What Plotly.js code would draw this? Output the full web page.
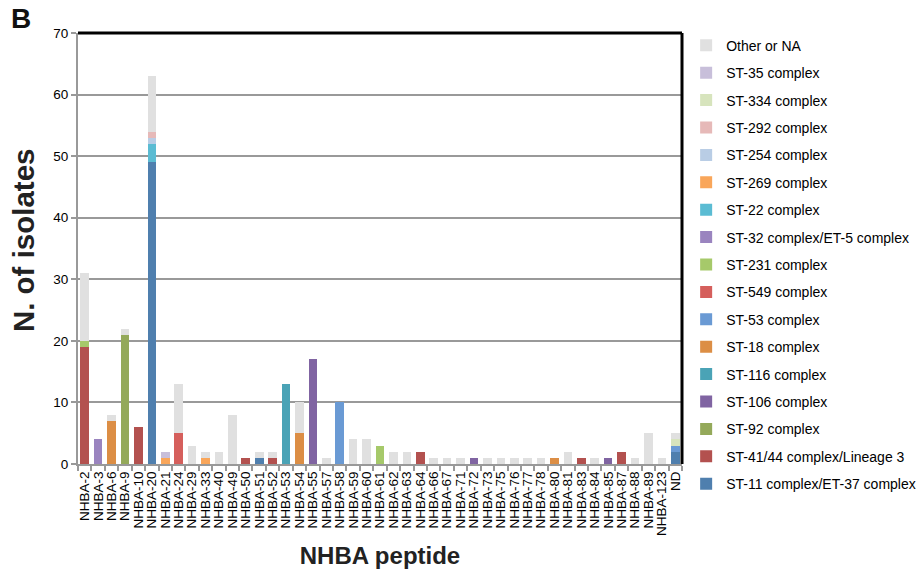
<!DOCTYPE html>
<html>
<head>
<meta charset="utf-8">
<script src="https://cdn.plot.ly/plotly-3.0.1.min.js"></script>
<style>body{margin:0;background:#fff;} #chart{width:921px;height:577px;}</style>
</head>
<body>
<div id="chart"></div>
<script>
const categories = ["NHBA-2","NHBA-3","NHBA-6","NHBA-9","NHBA-10","NHBA-20","NHBA-21","NHBA-24","NHBA-29","NHBA-33","NHBA-40","NHBA-49","NHBA-50","NHBA-51","NHBA-52","NHBA-53","NHBA-54","NHBA-55","NHBA-57","NHBA-58","NHBA-59","NHBA-60","NHBA-61","NHBA-62","NHBA-63","NHBA-64","NHBA-66","NHBA-67","NHBA-71","NHBA-72","NHBA-73","NHBA-75","NHBA-76","NHBA-77","NHBA-78","NHBA-80","NHBA-81","NHBA-83","NHBA-84","NHBA-85","NHBA-87","NHBA-88","NHBA-89","NHBA-123","ND"];

// values per series, aligned with categories
const st11    = [0,0,0,0,0,49,0,0,0,0,0,0,0,1,0,0,0,0,0,0,0,0,0,0,0,0,0,0,0,0,0,0,0,0,0,0,0,0,0,0,0,0,0,0,2];
const st41_44 = [19,0,0,0,6,0,0,0,0,0,0,0,1,0,1,0,0,0,0,0,0,0,0,0,0,2,0,0,0,0,0,0,0,0,0,0,0,1,0,0,2,0,0,0,0];
const st92    = [0,0,0,21,0,0,0,0,0,0,0,0,0,0,0,0,0,0,0,0,0,0,0,0,0,0,0,0,0,0,0,0,0,0,0,0,0,0,0,0,0,0,0,0,0];
const st106   = [0,0,0,0,0,0,0,0,0,0,0,0,0,0,0,0,0,17,0,0,0,0,0,0,0,0,0,0,0,1,0,0,0,0,0,0,0,0,0,1,0,0,0,0,0];
const st116   = [0,0,0,0,0,0,0,0,0,0,0,0,0,0,0,13,0,0,0,0,0,0,0,0,0,0,0,0,0,0,0,0,0,0,0,0,0,0,0,0,0,0,0,0,0];
const st18    = [0,0,7,0,0,0,0,0,0,0,0,0,0,0,0,0,5,0,0,0,0,0,0,0,0,0,0,0,0,0,0,0,0,0,0,1,0,0,0,0,0,0,0,0,0];
const st53    = [0,0,0,0,0,0,0,0,0,0,0,0,0,0,0,0,0,0,0,10,0,0,0,0,0,0,0,0,0,0,0,0,0,0,0,0,0,0,0,0,0,0,0,0,1];
const st549   = [0,0,0,0,0,0,0,5,0,0,0,0,0,0,0,0,0,0,0,0,0,0,0,0,0,0,0,0,0,0,0,0,0,0,0,0,0,0,0,0,0,0,0,0,0];
const st231   = [1,0,0,0,0,0,0,0,0,0,0,0,0,0,0,0,0,0,0,0,0,0,3,0,0,0,0,0,0,0,0,0,0,0,0,0,0,0,0,0,0,0,0,0,0];
const st32    = [0,4,0,0,0,0,0,0,0,0,0,0,0,0,0,0,0,0,0,0,0,0,0,0,0,0,0,0,0,0,0,0,0,0,0,0,0,0,0,0,0,0,0,0,0];
const st22    = [0,0,0,0,0,3,0,0,0,0,0,0,0,0,0,0,0,0,0,0,0,0,0,0,0,0,0,0,0,0,0,0,0,0,0,0,0,0,0,0,0,0,0,0,0];
const st269   = [0,0,0,0,0,0,1,0,0,1,0,0,0,0,0,0,0,0,0,0,0,0,0,0,0,0,0,0,0,0,0,0,0,0,0,0,0,0,0,0,0,0,0,0,0];
const st254   = [0,0,0,0,0,1,0,0,0,0,0,0,0,0,0,0,0,0,0,0,0,0,0,0,0,0,0,0,0,0,0,0,0,0,0,0,0,0,0,0,0,0,0,0,0];
const st292   = [0,0,0,0,0,1,0,0,0,0,0,0,0,0,0,0,0,0,0,0,0,0,0,0,0,0,0,0,0,0,0,0,0,0,0,0,0,0,0,0,0,0,0,0,0];
const st334   = [0,0,0,0,0,0,0,0,0,0,0,0,0,0,0,0,0,0,0,0,0,0,0,0,0,0,0,0,0,0,0,0,0,0,0,0,0,0,0,0,0,0,0,0,1];
const st35    = [0,0,0,0,0,0,1,0,0,0,0,0,0,0,0,0,0,0,0,0,0,0,0,0,0,0,0,0,0,0,0,0,0,0,0,0,0,0,0,0,0,0,0,0,0];
const otherNA = [11,0,1,1,0,9,0,8,3,1,2,8,0,1,1,0,5,0,1,0,4,4,0,2,2,0,1,1,1,0,1,1,1,1,1,0,2,0,1,0,0,1,5,1,1];

const seriesNames = ["ST-11 complex/ET-37 complex","ST-41/44 complex/Lineage 3","ST-92 complex","ST-106 complex","ST-116 complex","ST-18 complex","ST-53 complex","ST-549 complex","ST-231 complex","ST-32 complex/ET-5 complex","ST-22 complex","ST-269 complex","ST-254 complex","ST-292 complex","ST-334 complex","ST-35 complex","Other or NA"];
const seriesValues = [st11,st41_44,st92,st106,st116,st18,st53,st549,st231,st32,st22,st269,st254,st292,st334,st35,otherNA];
const seriesColors = ["#4f7fae","#b3514f","#94a95a","#8064a2","#4aa3b6","#dc8e45","#6a9ad4","#d55f5c","#a6c96a","#9a84bf","#5bbcd3","#f9a65a","#b9cde5","#e6b9b8","#d7e4bd","#c8bfda","#e0e0e0"];

const traces = seriesNames.map((n,i)=>({
  type:'bar', name:n, x:categories, y:seriesValues[i],
  marker:{color:seriesColors[i]}, legendgroup:'g'+i, legendrank:1000-i
}));

const layout = {
  width:921, height:577,
  margin:{l:78, r:239, t:33, b:113, autoexpand:false},
  paper_bgcolor:'#fff', plot_bgcolor:'#fff',
  barmode:'stack', bargap:0.36,
  font:{family:'Arial, Liberation Sans, sans-serif', size:13, color:'#000'},
  xaxis:{
    type:'category', tickangle:-90, tickson:'boundaries',
    tickmode:'array', tickvals:categories, ticktext:categories,
    ticks:'outside', ticklen:5, tickcolor:'#999', tickwidth:2,
    showline:true, linecolor:'#999', linewidth:2,
    tickfont:{size:13.5, color:'#000'},
    title:{text:'<b>NHBA peptide</b>', font:{size:24, color:'#222'}, standoff:12},
    automargin:false
  },
  yaxis:{
    range:[0,70], dtick:10, ticks:'outside', ticklen:5, tickcolor:'#999', tickwidth:2,
    showline:true, linecolor:'#999', linewidth:2,
    showgrid:true, gridcolor:'#999', gridwidth:2, zeroline:false,
    tickfont:{size:13.5, color:'#000'},
    title:{text:'<b>&nbsp;&nbsp;N. of isolates</b>', font:{size:29.5, color:'#222'}, standoff:10},
    automargin:false
  },
  legend:{
    traceorder:'grouped', xref:'container', yref:'container',
    x:0.745, y:0.9485, xanchor:'left', yanchor:'top', bgcolor:'rgba(0,0,0,0)',
    font:{size:14, color:'#000'}, tracegroupgap:6.2, itemwidth:20, maxheight:1
  },
  shapes:[
    {type:'line', xref:'paper', yref:'paper', x0:0, x1:1, y0:1, y1:1, line:{color:'#000', width:3}},
    {type:'line', xref:'paper', yref:'paper', x0:1, x1:1, y0:0, y1:1, line:{color:'#000', width:3}}
  ],
  annotations:[
    {text:'<b>B</b>', xref:'paper', yref:'paper', x:-0.115, y:1.074, xanchor:'left', yanchor:'top', showarrow:false, font:{size:28, color:'#111'}}
  ]
};

Plotly.newPlot('chart', traces, layout, {displayModeBar:false, staticPlot:true});
</script>
</body>
</html>
